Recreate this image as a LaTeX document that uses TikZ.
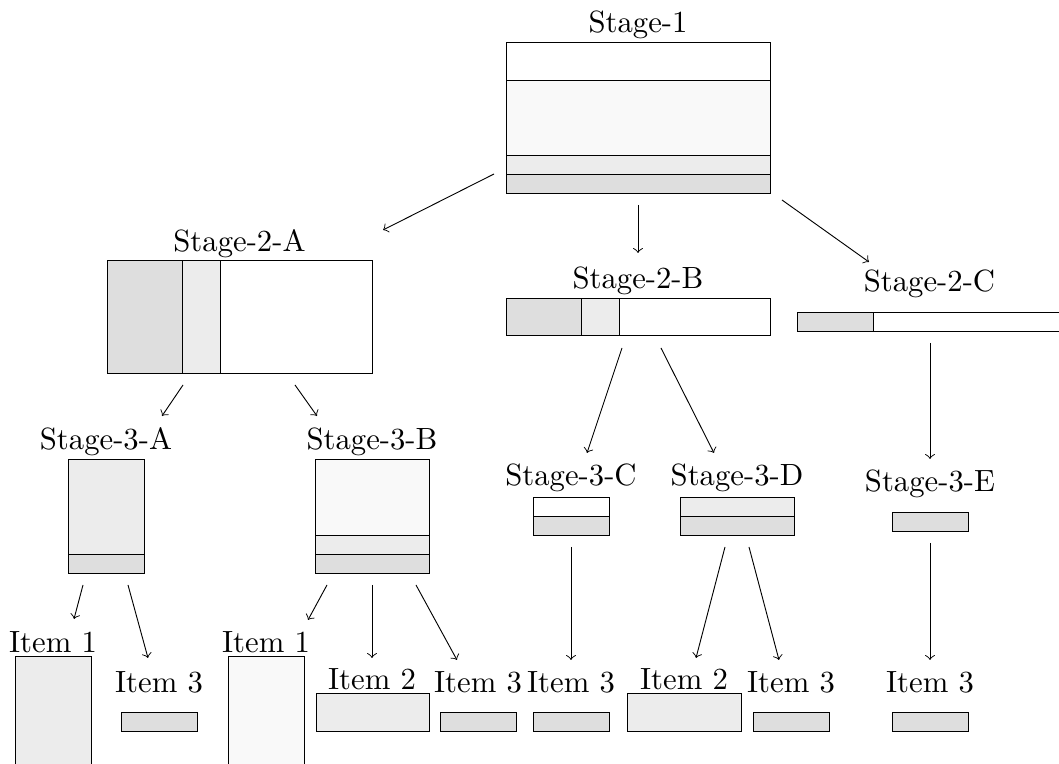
\documentclass[tikz,border=0pt]{standalone}
\usepackage{tikz}
\usetikzlibrary{arrows,positioning}

\definecolor{bandA}{gray}{0.87}
\definecolor{bandB}{gray}{0.925}
\definecolor{bandC}{gray}{0.975}

\tikzset{
  band/.style={draw=black, line width=0.3pt},
  lbl/.style={anchor=base, inner sep=0pt},
  link/.style={->, line width=0.3pt},
}

\begin{document}
\begin{tikzpicture}[x=0.3257pt,y=-0.3257pt]
  \useasboundingbox (0,0) rectangle (1059,764);
  \clip (0,0) rectangle (1059,764);

  % first stage
  \draw[band,fill=white] (506,42) rectangle (770,80);
  \draw[band,fill=bandC] (506,80) rectangle (770,155);
  \draw[band,fill=bandB] (506,155) rectangle (770,174);
  \draw[band,fill=bandA] (506,174) rectangle (770,193);
  \node[lbl] (s1) at (638,33) {Stage-1};

  % second stage
  \draw[band,fill=bandA] (107,260) rectangle (182,373);
  \draw[band,fill=bandB] (182,260) rectangle (220,373);
  \draw[band,fill=white] (220,260) rectangle (372,373);
  \node[lbl] (s2a) at (239.5,252) {Stage-2-A};

  \draw[band,fill=bandA] (506,298) rectangle (581,335);
  \draw[band,fill=bandB] (581,298) rectangle (619,335);
  \draw[band,fill=white] (619,298) rectangle (770,335);
  \node[lbl] (s2b) at (638,289) {Stage-2-B};

  \draw[band,fill=bandA] (797,312) rectangle (873,331);
  \draw[band,fill=white] (873,312) rectangle (1062,331);
  \node[lbl] (s2c) at (929.5,292) {Stage-2-C};

  % third stage
  \draw[band,fill=bandB] (68,459) rectangle (144,554);
  \draw[band,fill=bandA] (68,554) rectangle (144,573);
  \node[lbl] (s3a) at (106,450) {Stage-3-A};

  \draw[band,fill=bandC] (315,459) rectangle (429,535);
  \draw[band,fill=bandB] (315,535) rectangle (429,554);
  \draw[band,fill=bandA] (315,554) rectangle (429,573);
  \node[lbl] (s3b) at (372,450) {Stage-3-B};

  \draw[band,fill=white] (533,497) rectangle (609,516);
  \draw[band,fill=bandA] (533,516) rectangle (609,535);
  \node[lbl] (s3c) at (571,486) {Stage-3-C};

  \draw[band,fill=bandB] (680,497) rectangle (794,516);
  \draw[band,fill=bandA] (680,516) rectangle (794,535);
  \node[lbl] (s3d) at (737,486) {Stage-3-D};

  \draw[band,fill=bandA] (892,512) rectangle (968,531);
  \node[lbl] (s3e) at (930,492) {Stage-3-E};

  % items
  \draw[band,fill=bandB] (15,656) rectangle (91,770);
  \node[lbl] (i1a) at (53,653) {Item 1};
  \draw[band,fill=bandA] (121,712) rectangle (197,731);
  \node[lbl] (i3a) at (159,693) {Item 3};

  \draw[band,fill=bandC] (228,656) rectangle (304,770);
  \node[lbl] (i1b) at (266,653) {Item 1};
  \draw[band,fill=bandB] (316,693) rectangle (429,731);
  \node[lbl] (i2b) at (372,690) {Item 2};
  \draw[band,fill=bandA] (440,712) rectangle (516,731);
  \node[lbl] (i3b) at (478,693) {Item 3};

  \draw[band,fill=bandA] (533,712) rectangle (609,731);
  \node[lbl] (i3c) at (571,693) {Item 3};

  \draw[band,fill=bandB] (627,693) rectangle (741,731);
  \node[lbl] (i2d) at (684,690) {Item 2};
  \draw[band,fill=bandA] (753,712) rectangle (829,731);
  \node[lbl] (i3d) at (791,693) {Item 3};

  \draw[band,fill=bandA] (892,712) rectangle (968,731);
  \node[lbl] (i3e) at (930,693) {Item 3};

  % arrow ends
  \coordinate (s1_a) at (494,174);  \coordinate (s2a_in) at (383,230);
  \coordinate (s1_b) at (638,205);  \coordinate (s2b_in) at (638,253);
  \coordinate (s1_c) at (782,200);  \coordinate (s2c_in) at (869,262);
  \coordinate (s2a_a) at (183,385); \coordinate (s3a_in) at (162,416);
  \coordinate (s2a_b) at (295,385); \coordinate (s3b_in) at (317,416);
  \coordinate (s2b_a) at (622,348); \coordinate (s3c_in) at (587,453);
  \coordinate (s2b_b) at (661,348); \coordinate (s3d_in) at (714,453);
  \coordinate (s2c_a) at (930,343); \coordinate (s3e_in) at (930,459);
  \coordinate (s3a_a) at (83,585);  \coordinate (i1a_in) at (74,619);
  \coordinate (s3a_b) at (128,585); \coordinate (i3a_in) at (148,658);
  \coordinate (s3b_a) at (327,585); \coordinate (i1b_in) at (308,620);
  \coordinate (s3b_b) at (372,585); \coordinate (i2b_in) at (372,658);
  \coordinate (s3b_c) at (416,585); \coordinate (i3b_in) at (457,660);
  \coordinate (s3c_a) at (571,547); \coordinate (i3c_in) at (571,660);
  \coordinate (s3d_a) at (725,547); \coordinate (i2d_in) at (696,658);
  \coordinate (s3d_b) at (749,547); \coordinate (i3d_in) at (779,660);
  \coordinate (s3e_a) at (930,543); \coordinate (i3e_in) at (930,660);

  \draw[link] (s1_a) -- (s2a_in);
  \draw[link] (s1_b) -- (s2b_in);
  \draw[link] (s1_c) -- (s2c_in);
  \draw[link] (s2a_a) -- (s3a_in);
  \draw[link] (s2a_b) -- (s3b_in);
  \draw[link] (s2b_a) -- (s3c_in);
  \draw[link] (s2b_b) -- (s3d_in);
  \draw[link] (s2c_a) -- (s3e_in);
  \draw[link] (s3a_a) -- (i1a_in);
  \draw[link] (s3a_b) -- (i3a_in);
  \draw[link] (s3b_a) -- (i1b_in);
  \draw[link] (s3b_b) -- (i2b_in);
  \draw[link] (s3b_c) -- (i3b_in);
  \draw[link] (s3c_a) -- (i3c_in);
  \draw[link] (s3d_a) -- (i2d_in);
  \draw[link] (s3d_b) -- (i3d_in);
  \draw[link] (s3e_a) -- (i3e_in);
\end{tikzpicture}
\end{document}
